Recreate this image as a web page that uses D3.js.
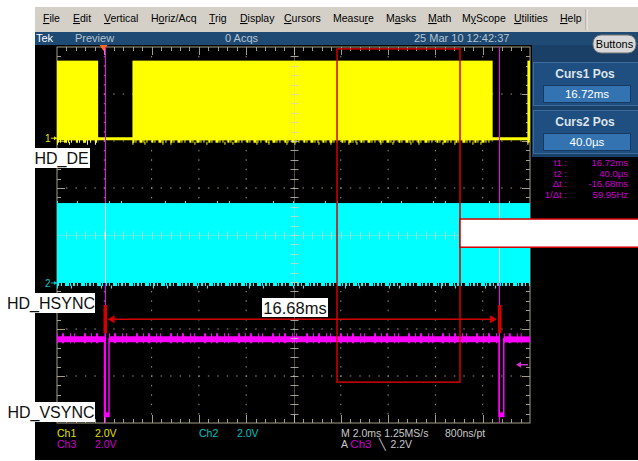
<!DOCTYPE html>
<html><head><meta charset="utf-8">
<script src="https://cdn.jsdelivr.net/npm/d3@7/dist/d3.min.js"></script>
<style>body{margin:0;background:#fff}svg{display:block}</style>
</head><body><svg id="c" width="638" height="461"></svg>
<script>
// ---------------- data ----------------
const menuItems = ["File","Edit","Vertical","Horiz/Acq","Trig","Display","Cursors","Measure","Masks","Math","MyScope","Utilities","Help"];
const menuMnemonic = [0,0,0,1,0,0,0,5,1,0,1,0,0];
const channelNames = ["Ch1","Ch2","Ch3"];
const signalNames = ["HD_DE","HD_HSYNC","HD_VSYNC"];
const voltsPerDiv = [2.0, 2.0, 2.0];
const groundDiv = [2.06, -1.02, -3.86];
const highLevel = [3.3, 3.4, 3.3];          // volts
const timeWindow = [-1.97, 18.03];          // ms (2.0 ms/div, 10 div)
const deIdle = [[-0.23, 1.22], [16.45, 17.92]];   // HD_DE low (blanking) intervals, ms
const vsyncLow = [[0.04, 0.23], [16.72, 16.92]];  // HD_VSYNC pulses, ms
const cursorTimes = [0.04, 16.72];
const cursorReadLabels = ["t1 :", "t2 :", "\u0394t :", "1/\u0394t :"];
const cursorReadValues = ["16.72ms", "40.0\u00b5s", "-16.68ms", "59.95Hz"];
const cursorBoxTitles = ["Curs1 Pos", "Curs2 Pos"];
const cursorBoxValues = ["16.72ms", "40.0\u00b5s"];
const deltaLabel = "16.68ms";
const triggerLevel = 2.2;                   // V on Ch3
const zoomWindowT = [9.87, 15.07];          // ms
const zoomWindowDiv = [3.96, -3.13];
const headerTexts = ["Tek", "Preview", "0 Acqs", "25 Mar 10 12:42:37"];
const statusTexts = ["Ch1","2.0V","Ch3","2.0V","Ch2","2.0V","M 2.0ms 1.25MS/s","800ns/pt"];

// ---------------- setup ----------------
const svg = d3.select("#c");
const F = "'Liberation Sans', Arial, sans-serif";
const FN = "'Liberation Sans Narrow','Liberation Sans', Arial, sans-serif";
const X0 = 57, X1 = 530, Y0 = 47, Y1 = 423;
const xs = d3.scaleLinear().domain(timeWindow).range([X0, X1]);
const ys = d3.scaleLinear().domain([-4, 4]).range([Y1, Y0]);
const xd = d3.scaleLinear().domain([0, 10]).range([X0, X1]);
const yd = d3.scaleLinear().domain([0, 8]).range([Y0, Y1]);
const vy = (ch, v) => ys(groundDiv[ch] + v / voltsPerDiv[ch]);
const colors = ["#ffff00", "#00ffff", "#ff00ff"];

// backgrounds
svg.append("rect").attr("x",35).attr("y",7).attr("width",603).attr("height",25).attr("fill","#d4d0c8");
svg.append("line").attr("x1",586).attr("x2",586).attr("y1",9).attr("y2",30).attr("stroke","#a09c94");
svg.append("line").attr("x1",587).attr("x2",587).attr("y1",9).attr("y2",30).attr("stroke","#f4f4f0");
svg.append("rect").attr("x",35).attr("y",45).attr("width",603).attr("height",415).attr("fill","#000");
svg.append("rect").attr("x",35).attr("y",32).attr("width",603).attr("height",13).attr("fill","#1e4a73");
svg.append("rect").attr("x",532).attr("y",45).attr("width",106).attr("height",112).attr("fill","#1a4068");

// menu
const menuX = [43,73,104,151,209,240,284,333,386,428,462,514,560];
menuItems.forEach((m, i) => {
  const t = svg.append("text").attr("x", menuX[i]).attr("y", 22).attr("font-family", F)
    .attr("font-size", 10.5).attr("fill", "#000");
  const k = menuMnemonic[i];
  if (k > 0) t.append("tspan").text(m.slice(0, k));
  t.append("tspan").attr("text-decoration", "underline").text(m[k]);
  t.append("tspan").text(m.slice(k + 1));
});

// header
const hx = [36, 75, 225, 414];
headerTexts.forEach((h, i) => svg.append("text").attr("x", hx[i]).attr("y", 42).attr("font-family", F)
  .attr("font-size", 11).attr("fill", i === 0 ? "#ffffff" : "#b8c4d0").text(h));

// Buttons
svg.append("rect").attr("x",593).attr("y",35).attr("width",43).attr("height",18).attr("rx",8)
  .attr("fill","#d8d8d8").attr("stroke","#707070");
svg.append("text").attr("x",614.5).attr("y",48).attr("text-anchor","middle").attr("font-family",F)
  .attr("font-size",11).attr("fill","#000").text("Buttons");

// cursor boxes
cursorBoxTitles.forEach((t, i) => {
  const by = 62 + i * 48;
  svg.append("rect").attr("x",533.5).attr("y",by+0.5).attr("width",106).attr("height",43)
    .attr("fill","#1f4f80").attr("stroke","#3c6c9c");
  svg.append("text").attr("x",585).attr("y",by+16).attr("text-anchor","middle").attr("font-family",F)
    .attr("font-weight","bold").attr("font-size",12).attr("fill","#dde4ec").text(t);
  svg.append("rect").attr("x",543.5).attr("y",by+23.5).attr("width",87).attr("height",17)
    .attr("fill","#3473b2").attr("stroke","#173a60");
  svg.append("text").attr("x",587).attr("y",by+36).attr("text-anchor","middle").attr("font-family",F)
    .attr("font-size",11.5).attr("fill","#ffffff").text(cursorBoxValues[i]);
});
// readouts
cursorReadLabels.forEach((l, i) => {
  svg.append("text").attr("x",567).attr("y",166 + i * 10.5).attr("text-anchor","end").attr("font-family",FN)
    .attr("font-size",9.5).attr("fill","#cc00cc").text(l);
  svg.append("text").attr("x",628).attr("y",166 + i * 10.5).attr("text-anchor","end").attr("font-family",FN)
    .attr("font-size",9.5).attr("fill","#cc00cc").text(cursorReadValues[i]);
});

// ---------------- graticule ----------------
const grat = svg.append("g").attr("fill", "#9a947e");
for (let i = 1; i < 10; i++) { if (i === 5) continue;
  for (let m = 1; m < 40; m++) grat.append("rect").attr("x", xd(i) - 0.5).attr("y", yd(m / 5) - 0.5).attr("width", 1).attr("height", 1.5);
}
for (let j = 1; j < 8; j++) { if (j === 4) continue;
  for (let m = 1; m < 50; m++) grat.append("rect").attr("x", xd(m / 5) - 0.5).attr("y", yd(j) - 0.5).attr("width", 1.5).attr("height", 1);
}
const gl = svg.append("g").attr("stroke", "#a39d86").attr("stroke-width", 1);
gl.append("rect").attr("x", X0).attr("y", Y0).attr("width", X1 - X0).attr("height", Y1 - Y0).attr("fill", "none");
for (let m = 1; m < 50; m++) {
  const L = m % 5 === 0 ? 8 : 4, x = Math.round(xd(m / 5)) + 0.5;
  gl.append("line").attr("x1", x).attr("x2", x).attr("y1", Y0).attr("y2", Y0 + L);
  gl.append("line").attr("x1", x).attr("x2", x).attr("y1", Y1 - L).attr("y2", Y1);
}
for (let m = 1; m < 40; m++) {
  const L = m % 5 === 0 ? 8 : 4, y = Math.round(yd(m / 5)) + 0.5;
  gl.append("line").attr("x1", X0).attr("x2", X0 + L).attr("y1", y).attr("y2", y);
  gl.append("line").attr("x1", X1 - L).attr("x2", X1).attr("y1", y).attr("y2", y);
}

// ---------------- traces ----------------
function complement(iv, [a, b]) {
  const out = []; let cur = a;
  iv.forEach(([s, e]) => { if (s > cur) out.push([cur, Math.min(s, b)]); cur = Math.max(cur, e); });
  if (cur < b) out.push([cur, b]); return out;
}
// Ch1 HD_DE
const deActive = complement(deIdle, timeWindow);
const ch1 = svg.append("g");
ch1.append("line").attr("x1", X0).attr("x2", X1).attr("y1", vy(0, 0) + 0.5).attr("y2", vy(0, 0) + 0.5)
  .attr("stroke", colors[0]).attr("stroke-width", 3);
ch1.selectAll("rect").data(deActive).join("rect")
  .attr("x", d => xs(d[0])).attr("width", d => xs(d[1]) - xs(d[0]))
  .attr("y", vy(0, highLevel[0])).attr("height", vy(0, 0) - vy(0, highLevel[0]) + 2).attr("fill", colors[0]);
ch1.selectAll("line.n").data(deActive).join("line").attr("class", "n")
  .attr("x1", d => xs(d[0])).attr("x2", d => xs(d[1])).attr("y1", vy(0, 0) + 3).attr("y2", vy(0, 0) + 3)
  .attr("stroke", colors[0]).attr("stroke-width", 3).attr("stroke-dasharray", "2,1,1,3,3,1,1,2,1,4");
ch1.selectAll("line.s").data(deActive).join("line").attr("class", "s")
  .attr("x1", d => xs(d[0])).attr("x2", d => xs(d[1])).attr("y1", vy(0, 0) + 5).attr("y2", vy(0, 0) + 5)
  .attr("stroke", colors[0]).attr("stroke-width", 3).attr("stroke-dasharray", "1,11,1,17,1,7,1,23");

// Ch2 HD_HSYNC
const ch2 = svg.append("g");
ch2.append("rect").attr("x", xs(timeWindow[0])).attr("width", xs(timeWindow[1]) - xs(timeWindow[0]))
  .attr("y", vy(1, highLevel[1])).attr("height", vy(1, 0) - vy(1, highLevel[1])).attr("fill", colors[1]);
ch2.append("line").attr("x1", X0).attr("x2", X1).attr("y1", vy(1, 0) + 1.5).attr("y2", vy(1, 0) + 1.5)
  .attr("stroke", colors[1]).attr("stroke-width", 3).attr("stroke-dasharray", "2,2,1,3,4,1,1,2");
ch2.append("line").attr("x1", X0).attr("x2", X1).attr("y1", vy(1, 0) + 4).attr("y2", vy(1, 0) + 4)
  .attr("stroke", colors[1]).attr("stroke-width", 3).attr("stroke-dasharray", "1,13,1,29,1,9,1,41");
ch2.append("line").attr("x1", X0).attr("x2", X1).attr("y1", vy(1, highLevel[1]) - 1).attr("y2", vy(1, highLevel[1]) - 1)
  .attr("stroke", colors[1]).attr("stroke-width", 2).attr("stroke-dasharray", "1,19,1,31,1,11,1,43");

// Ch3 HD_VSYNC
const ch3pts = [[timeWindow[0], highLevel[2]]];
vsyncLow.forEach(([s, e]) => { ch3pts.push([s, highLevel[2]], [s, 0], [e, 0], [e, highLevel[2]]); });
ch3pts.push([timeWindow[1], highLevel[2]]);
const line3 = d3.line().x(d => xs(d[0])).y(d => vy(2, d[1]));
const vHigh = complement(vsyncLow, timeWindow);
const ch3 = svg.append("g");
ch3.selectAll("line.b").data(vHigh).join("line").attr("class", "b")
  .attr("x1", d => xs(d[0])).attr("x2", d => xs(d[1])).attr("y1", vy(2, highLevel[2]) + 0.5).attr("y2", vy(2, highLevel[2]) + 0.5)
  .attr("stroke", colors[2]).attr("stroke-width", 6);
ch3.selectAll("line.n").data(vHigh).join("line").attr("class", "n")
  .attr("x1", d => xs(d[0])).attr("x2", d => xs(d[1])).attr("y1", vy(2, highLevel[2]) - 0.5).attr("y2", vy(2, highLevel[2]) - 0.5)
  .attr("stroke", colors[2]).attr("stroke-width", 10).attr("stroke-dasharray", "1,4,2,6,1,3,1,9,2,5");
ch3.append("path").attr("d", line3(ch3pts)).attr("fill", "none").attr("stroke", colors[2]).attr("stroke-width", 1.5);
ch3.selectAll("rect").data(vsyncLow).join("rect")
  .attr("x", d => xs(d[0])).attr("width", d => xs(d[1]) - xs(d[0]))
  .attr("y", vy(2, 0) - 4).attr("height", 4).attr("fill", colors[2]);

// center cross (drawn over traces)
const cc = svg.append("g").attr("stroke", "#d8d4c4").attr("stroke-opacity", 0.75);
const cx = Math.round(xd(5)) + 0.5, cy = Math.round(yd(4)) + 0.5;
for (let m = 1; m < 40; m++) { const y = Math.round(yd(m / 5)) + 0.5;
  cc.append("line").attr("x1", cx - 4).attr("x2", cx + 4).attr("y1", y).attr("y2", y); }
for (let m = 1; m < 50; m++) { const x = Math.round(xd(m / 5)) + 0.5;
  cc.append("line").attr("x1", x).attr("x2", x).attr("y1", cy - 4).attr("y2", cy + 4); }
cc.append("line").attr("x1", cx).attr("x2", cx).attr("y1", Y0).attr("y2", Y1).attr("stroke-opacity", 0.35);
cc.append("line").attr("x1", X0).attr("x2", X1).attr("y1", cy).attr("y2", cy).attr("stroke-opacity", 0.35);

// channel ground markers
[0, 1].forEach(ch => {
  const y = vy(ch, 0);
  svg.append("text").attr("x", 45).attr("y", y + 4).attr("font-family", FN).attr("font-size", 10)
    .attr("fill", ch === 0 ? "#e8e800" : "#00c8c8").text(String(ch + 1));
  svg.append("line").attr("x1", 51).attr("x2", 57).attr("y1", y).attr("y2", y)
    .attr("stroke", ch === 0 ? "#e8e800" : "#00c8c8");
  svg.append("path").attr("d", `M57,${y} l-3,-2 v4 z`).attr("fill", ch === 0 ? "#e8e800" : "#00c8c8");
});
// trigger level marker (Ch3)
const ty = vy(2, triggerLevel);
svg.append("line").attr("x1", 521).attr("x2", 528).attr("y1", ty).attr("y2", ty).attr("stroke", "#cc33cc").attr("stroke-width", 1.5);
svg.append("path").attr("d", `M516,${ty} l5,-3 v6 z`).attr("fill", "#cc33cc");
// trigger position marker
svg.append("path").attr("d", `M${xs(0) - 4},45 h8 l-4,6 z`).attr("fill", "#ff6a1a");

// cursors
cursorTimes.forEach(t => {
  const x = Math.round(xs(t)) + 0.5;
  svg.append("line").attr("x1", x).attr("x2", x).attr("y1", Y0).attr("y2", Y1).attr("stroke", "#ff00ff");
  svg.append("line").attr("x1", x).attr("x2", x).attr("y1", vy(1, highLevel[1])).attr("y2", vy(1, 0)).attr("stroke", "#ffffff");
});

// ---------------- annotations ----------------
const red = "#d40000";
svg.append("rect").attr("x", xs(zoomWindowT[0])).attr("y", ys(zoomWindowDiv[0]))
  .attr("width", xs(zoomWindowT[1]) - xs(zoomWindowT[0])).attr("height", ys(zoomWindowDiv[1]) - ys(zoomWindowDiv[0]))
  .attr("fill", "none").attr("stroke", red).attr("stroke-width", 1.5);
svg.append("rect").attr("x", xs(zoomWindowT[1])).attr("y", ys(0.34)).attr("width", 640 - xs(zoomWindowT[1]))
  .attr("height", ys(-0.26) - ys(0.34)).attr("fill", "#fff").attr("stroke", red).attr("stroke-width", 1.5);
// delta arrow
const ay = ys(-1.79);
cursorTimes.forEach(t => svg.append("rect").attr("x", xs(t) - 1).attr("width", 3.5)
  .attr("y", ys(-1.49)).attr("height", ys(-2.09) - ys(-1.49)).attr("fill", red));
const ax0 = xs(cursorTimes[0]) + 3, ax1 = xs(cursorTimes[1]) - 2;
svg.append("line").attr("x1", ax0 + 4).attr("x2", ax1 - 4).attr("y1", ay).attr("y2", ay).attr("stroke", red).attr("stroke-width", 1.5);
svg.append("path").attr("d", `M${ax0},${ay} l7,-4 v8 z`).attr("fill", red);
svg.append("path").attr("d", `M${ax1},${ay} l-7,-4 v8 z`).attr("fill", red);
svg.append("rect").attr("x", 262).attr("y", 298).attr("width", 66).attr("height", 19).attr("fill", "#fff");
svg.append("text").attr("x", 295).attr("y", 314).attr("text-anchor", "middle").attr("font-family", F)
  .attr("font-size", 16.5).attr("fill", "#111").text(deltaLabel);

// signal labels
const lbl = [[33, 148, 57, 20], [7, 293, 88, 20], [7, 402, 88, 20]];
signalNames.forEach((s, i) => {
  const [x, y, w, h] = lbl[i];
  svg.append("rect").attr("x", x).attr("y", y).attr("width", w).attr("height", h).attr("fill", "#fff");
  svg.append("text").attr("x", x + w / 2).attr("y", y + 16).attr("text-anchor", "middle").attr("font-family", F)
    .attr("font-size", 16).attr("fill", "#111").text(s);
});

// ---------------- status line ----------------
const st = [[57, 437, "#e0e000"], [95, 437, "#e0e000"], [57, 448, "#cc00cc"], [95, 448, "#cc00cc"],
            [199, 437, "#00c0c0"], [237, 437, "#00c0c0"], [341, 437, "#c8c8c8"], [445, 437, "#c8c8c8"]];
statusTexts.forEach((s, i) => svg.append("text").attr("x", st[i][0]).attr("y", st[i][1]).attr("font-family", FN)
  .attr("font-size", 10.5).attr("fill", st[i][2]).text(s));
const trg = svg.append("text").attr("x", 341).attr("y", 448).attr("font-family", FN).attr("font-size", 10.5).attr("fill", "#c8c8c8");
trg.append("tspan").text("A ");
trg.append("tspan").attr("fill", "#cc00cc").attr("font-size", 11.5).text(channelNames[2]);
trg.append("tspan").attr("dx", 8).text("\u2572");
trg.append("tspan").attr("dx", 4).text(triggerLevel.toFixed(1) + "V");
</script></body></html>
